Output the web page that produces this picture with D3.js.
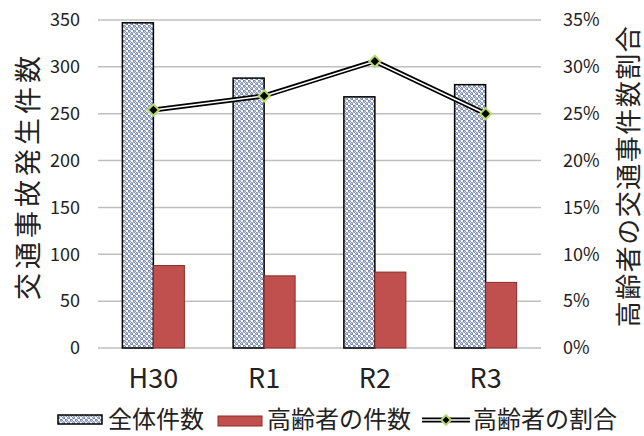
<!DOCTYPE html>
<html>
<head>
<meta charset="utf-8">
<script src="https://cdn.jsdelivr.net/npm/d3@7"></script>
<style>
  body { margin: 0; background: #fff; }
  text { font-family: "Noto Sans CJK JP", "Noto Sans", sans-serif; fill: #222; }
</style>
</head>
<body>
<div id="chart"></div>
<script>
// values
const YEARS = ["H30", "R1", "R2", "R3"];
const TOTAL = [347, 288, 268, 281];          // 全体件数
const ELDER = [88, 77, 81, 70];              // 高齢者の件数
const RATIO = [25.4, 26.9, 30.6, 25.0];      // 高齢者の割合 (%)
const LEFT_TICKS = [0, 50, 100, 150, 200, 250, 300, 350];
const RIGHT_TICKS = [0, 5, 10, 15, 20, 25, 30, 35];

const W = 644, H = 436;
const M = { left: 98, right: 103, top: 20, bottom: 88 };
const innerW = W - M.left - M.right, innerH = H - M.top - M.bottom;

const svg = d3.select("#chart").append("svg").attr("width", W).attr("height", H);

// dotted fill for the total bars (small navy rings on white)
const defs = svg.append("defs");
const pat = defs.append("pattern").attr("id", "dots")
    .attr("width", 5).attr("height", 5).attr("patternUnits", "userSpaceOnUse");
pat.append("rect").attr("width", 5).attr("height", 5).attr("fill", "#fff");
pat.append("circle").attr("cx", 1.25).attr("cy", 1.25).attr("r", 1.1)
    .attr("fill", "none").attr("stroke", "#24407f").attr("stroke-width", 0.8);
pat.append("circle").attr("cx", 3.75).attr("cy", 3.75).attr("r", 1.1)
    .attr("fill", "none").attr("stroke", "#24407f").attr("stroke-width", 0.8);

const plot = svg.append("g").attr("transform", `translate(${M.left},${M.top})`);

const x = d3.scaleBand().domain(YEARS).range([0, innerW]);
const yL = d3.scaleLinear().domain([0, 350]).range([innerH, 0]);
const yR = d3.scaleLinear().domain([0, 35]).range([innerH, 0]);

// gridlines
plot.append("g").selectAll("line").data(LEFT_TICKS).join("line")
    .attr("x1", 0).attr("x2", innerW)
    .attr("y1", d => yL(d)).attr("y2", d => yL(d))
    .attr("stroke", "#bfbfbf").attr("stroke-width", 1.5);

// left ticks
plot.append("g").selectAll("text").data(LEFT_TICKS).join("text")
    .attr("x", -18).attr("y", d => yL(d)).attr("dy", "0.35em")
    .attr("text-anchor", "end").style("font-size", "18px")
    .text(d => d);

// right ticks
plot.append("g").selectAll("text").data(RIGHT_TICKS).join("text")
    .attr("x", innerW + 22).attr("y", d => yR(d)).attr("dy", "0.35em")
    .attr("text-anchor", "start").style("font-size", "18px")
    .text(d => d + "%");

// bars
const barW = 31;
const cx = d => x(d) + x.bandwidth() / 2;
plot.append("g").selectAll("rect").data(YEARS).join("rect")
    .attr("x", d => cx(d) - barW).attr("width", barW)
    .attr("y", (d, i) => yL(TOTAL[i])).attr("height", (d, i) => innerH - yL(TOTAL[i]))
    .attr("fill", "url(#dots)").attr("stroke", "#000").attr("stroke-width", 1.5);
plot.append("g").selectAll("rect").data(YEARS).join("rect")
    .attr("x", d => cx(d)).attr("width", barW)
    .attr("y", (d, i) => yL(ELDER[i])).attr("height", (d, i) => innerH - yL(ELDER[i]))
    .attr("fill", "#c0504d").attr("stroke", "#8c2b28").attr("stroke-width", 1);

// ratio line: double stroke (black outside, white inside)
const line = d3.line().x(d => cx(d.k)).y(d => yR(d.v));
const pts = YEARS.map((k, i) => ({ k, v: RATIO[i] }));
plot.append("path").datum(pts).attr("d", line)
    .attr("fill", "none").attr("stroke", "#000").attr("stroke-width", 5);
plot.append("path").datum(pts).attr("d", line)
    .attr("fill", "none").attr("stroke", "#fff").attr("stroke-width", 1.6);
plot.append("g").selectAll("path").data(pts).join("path")
    .attr("transform", d => `translate(${cx(d.k)},${yR(d.v)})`)
    .attr("d", d3.symbol(d3.symbolDiamond2, 80))
    .attr("fill", "#000").attr("stroke", "#b5d96a").attr("stroke-width", 2);

// category labels
plot.append("g").selectAll("text").data(YEARS).join("text")
    .attr("x", d => cx(d)).attr("y", innerH + 40)
    .attr("text-anchor", "middle").style("font-size", "27px")
    .text(d => d);

// axis titles
svg.append("text").attr("transform", "translate(26,176) rotate(-90)")
    .attr("text-anchor", "middle").attr("dominant-baseline", "central")
    .style("font-size", "27px").style("letter-spacing", "4px")
    .text("交通事故発生件数");
svg.append("text").attr("transform", "translate(626,176) rotate(-90)")
    .attr("text-anchor", "middle").attr("dominant-baseline", "central")
    .style("font-size", "26px").style("letter-spacing", "1.5px")
    .text("高齢者の交通事件数割合");

// legend
const lg = svg.append("g").attr("transform", "translate(0,419)");
lg.append("rect").attr("x", 58).attr("y", -4).attr("width", 44).attr("height", 9)
    .attr("fill", "url(#dots)").attr("stroke", "#000").attr("stroke-width", 1.5);
lg.append("text").attr("x", 108).attr("dy", "0.36em").style("font-size", "24px").text("全体件数");
lg.append("rect").attr("x", 218).attr("y", -3).attr("width", 44).attr("height", 10)
    .attr("fill", "#c0504d").attr("stroke", "#8c2b28").attr("stroke-width", 1);
lg.append("text").attr("x", 267).attr("dy", "0.36em").style("font-size", "24px").text("高齢者の件数");
lg.append("line").attr("x1", 422).attr("x2", 470).attr("y1", 1).attr("y2", 1)
    .attr("stroke", "#000").attr("stroke-width", 5);
lg.append("line").attr("x1", 422).attr("x2", 470).attr("y1", 1).attr("y2", 1)
    .attr("stroke", "#fff").attr("stroke-width", 1.6);
lg.append("path").attr("transform", "translate(446,1)")
    .attr("d", d3.symbol(d3.symbolDiamond2, 60))
    .attr("fill", "#000").attr("stroke", "#b5d96a").attr("stroke-width", 2);
lg.append("text").attr("x", 473).attr("dy", "0.36em").style("font-size", "24px").text("高齢者の割合");
</script>
</body>
</html>
